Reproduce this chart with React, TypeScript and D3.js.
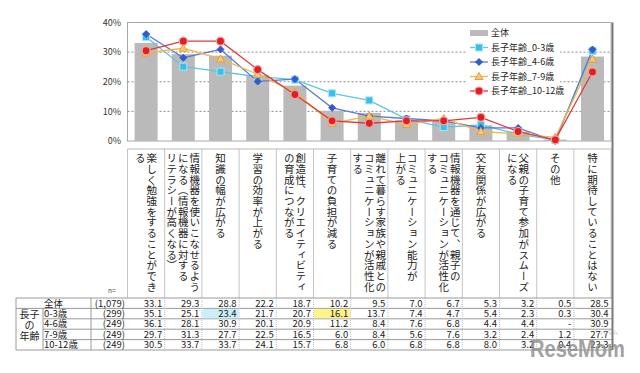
import * as d3 from "d3";

const categories: string[][] = [
  ["楽しく勉強をすることができ", "る"],
  ["情報機器を使いこなせるよう", "になる（情報機器に対する", "リテラシーが高くなる）"],
  ["知識の幅が広がる"],
  ["学習の効率が上がる"],
  ["創造性、クリエイティビティ", "の育成につながる"],
  ["子育ての負担が減る"],
  ["離れて暮らす家族や親戚との", "コミュニケーションが活性化", "する"],
  ["コミュニケーション能力が", "上がる"],
  ["情報機器を通じて、親子の", "コミュニケーションが活性化", "する"],
  ["交友関係が広がる"],
  ["父親の子育て参加がスムーズ", "になる"],
  ["その他"],
  ["特に期待していることはない"],
];

// 全体 and the four age groups (null = "-")
const totalValues = [33.1, 29.3, 28.8, 22.2, 18.7, 10.2, 9.5, 7.0, 6.7, 5.3, 3.2, 0.5, 28.5];
const age0to3 = [35.1, 25.1, 23.4, 21.7, 20.7, 16.1, 13.7, 7.4, 4.7, 5.4, 2.3, 0.3, 30.4];
const age4to6 = [36.1, 28.1, 30.9, 20.1, 20.9, 11.2, 8.4, 7.6, 6.8, 4.4, 4.4, null, 30.9];
const age7to9 = [29.7, 31.3, 27.7, 22.5, 16.5, 6.0, 8.4, 5.6, 7.6, 3.2, 2.4, 1.2, 27.7];
const age10to12 = [30.5, 33.7, 33.7, 24.1, 15.7, 6.8, 6.0, 6.8, 6.8, 8.0, 3.2, 0.4, 23.3];

const seriesNames = ["長子年齢_0-3歳", "長子年齢_4-6歳", "長子年齢_7-9歳", "長子年齢_10-12歳"];
const rowLabels = ["全体", "0-3歳", "4-6歳", "7-9歳", "10-12歳"];
const nCounts = ["(1,079)", "(299)", "(249)", "(249)", "(249)"];
const yTicks = [0, 10, 20, 30, 40];

const FONT = "'Noto Sans CJK JP', 'Noto Sans', sans-serif";

const seriesStyle = [
  { line: "#5cc6e4", fill: "#38bfe8", stroke: "#a8e4f4", shape: "square" },
  { line: "#5a78d8", fill: "#3559cc", stroke: "#3559cc", shape: "diamond" },
  { line: "#f2b74a", fill: "#f9c77a", stroke: "#e9a02c", shape: "triangle" },
  { line: "#e0393b", fill: "#e01e24", stroke: "#f4a4a4", shape: "circle" },
];

function Marker({ shape, cx, cy, fill, stroke }: any) {
  if (shape === "square")
    return <rect x={cx - 3.5} y={cy - 3.5} width={7} height={7} fill={fill} stroke={stroke} strokeWidth={1} />;
  if (shape === "diamond")
    return <path d={`M${cx},${cy - 3.5}L${cx + 3.5},${cy}L${cx},${cy + 3.5}L${cx - 3.5},${cy}Z`} fill={fill} stroke={stroke} />;
  if (shape === "triangle")
    return <path d={`M${cx},${cy - 4}L${cx + 4},${cy + 3}L${cx - 4},${cy + 3}Z`} fill={fill} stroke={stroke} strokeWidth={1} />;
  return <circle cx={cx} cy={cy} r={4} fill={fill} stroke={stroke} strokeWidth={1.2} />;
}

export default function App() {
  const width = 640;
  const height = 373;
  const plotLeft = 127.5;
  const plotRight = 611.1;
  const plotTop = 22.5;
  const plotBottom = 141;
  const labelTop = 149;
  const tableTop = 298;
  const rowH = 10.4;
  const tableBottom = tableTop + rowH * 5;

  const x = d3.scaleBand<number>().domain(d3.range(categories.length)).range([plotLeft, plotRight]);
  const bw = x.bandwidth();
  const cx = (i: number) => (x(i) as number) + bw / 2;
  const y = d3.scaleLinear().domain([0, 40]).range([plotBottom, plotTop]);

  const groups = [age0to3, age4to6, age7to9, age10to12];
  const line = d3
    .line<number | null>()
    .x((_, i) => cx(i))
    .y((d) => y(d ?? 0));

  const tableRows = [totalValues, ...groups];
  const legendY = [33, 47.5, 62, 76.5, 91];

  return (
    <svg width={width} height={height} style={{ position: "absolute", left: 0, top: 0, fontFamily: FONT }}>
      <rect width={width} height={height} fill="#fff" />

      {/* plot frame */}
      <rect x={plotLeft} y={plotTop} width={plotRight - plotLeft} height={plotBottom - plotTop} fill="none" stroke="#a8a8a8" />

      {/* grid */}
      {yTicks.filter((t) => t > 0 && t < 40).map((t) => (
        <line key={t} x1={plotLeft} x2={plotRight} y1={y(t)} y2={y(t)} stroke="#8c8c8c" strokeDasharray="2,2" />
      ))}
      {yTicks.map((t) => (
        <text key={t} x={121} y={y(t)} dy="0.35em" textAnchor="end" fontSize={9} fill="#333">
          {t}%
        </text>
      ))}

      {/* bars */}
      {totalValues.map((v, i) => (
        <rect key={i} x={cx(i) - 11.5} y={y(v)} width={23} height={plotBottom - y(v)} fill="#bababa" />
      ))}

      {/* legend box */}
      <rect x={466} y={25} width={94} height={72} fill="#fff" />

      {/* lines */}
      {groups.map((g, s) => (
        <path key={s} d={line(g) as string} fill="none" stroke={seriesStyle[s].line} strokeWidth={1.3} />
      ))}
      {groups.map((g, s) =>
        g.map((v, i) => (
          <Marker key={`${s}-${i}`} shape={seriesStyle[s].shape} cx={cx(i)} cy={y(v ?? 0)} fill={seriesStyle[s].fill} stroke={seriesStyle[s].stroke} />
        ))
      )}

      {/* legend */}
      <rect x={470} y={legendY[0] - 3} width={18} height={6} fill="#bababa" />
      <text x={491} y={legendY[0]} dy="0.35em" fontSize={9} fill="#222">全体</text>
      {seriesNames.map((name, s) => (
        <g key={name}>
          <line x1={470} x2={488} y1={legendY[s + 1]} y2={legendY[s + 1]} stroke={seriesStyle[s].line} strokeWidth={1.3} />
          <Marker shape={seriesStyle[s].shape} cx={479} cy={legendY[s + 1]} fill={seriesStyle[s].fill} stroke={seriesStyle[s].stroke} />
          <text x={491} y={legendY[s + 1]} dy="0.35em" fontSize={9} fill="#222">{name}</text>
        </g>
      ))}

      {/* category label box */}
      <line x1={plotLeft} x2={plotRight} y1={labelTop} y2={labelTop} stroke="#b8b8b8" />
      {d3.range(categories.length + 1).map((i) => (
        <line key={i} x1={plotLeft + bw * i} x2={plotLeft + bw * i} y1={labelTop} y2={tableTop} stroke="#c4c4c4" />
      ))}
      {categories.map((lines, i) =>
        lines.map((ln, k) => {
          const pitch = 11.5;
          const lx = cx(i) + ((lines.length - 1) / 2 - k) * pitch;
          return (
            <text key={`${i}-${k}`} x={lx} y={153} fontSize={10.5} letterSpacing={0.2} fill="#222" style={{ writingMode: "vertical-rl" }}>
              {ln}
            </text>
          );
        })
      )}
      <text x={108} y={293} fontSize={6.5} fill="#444">n=</text>

      {/* table */}
      {[0, 1, 5].map((r) => (
        <line key={r} x1={16} x2={612} y1={tableTop + rowH * r} y2={tableTop + rowH * r} stroke="#9a9a9a" />
      ))}
      {[2, 3, 4].map((r) => (
        <line key={r} x1={43} x2={612} y1={tableTop + rowH * r} y2={tableTop + rowH * r} stroke="#9a9a9a" />
      ))}
      <line x1={16} x2={16} y1={tableTop} y2={tableBottom} stroke="#9a9a9a" />
      <line x1={43} x2={43} y1={tableTop + rowH} y2={tableBottom} stroke="#9a9a9a" />
      <line x1={91} x2={91} y1={tableTop} y2={tableBottom} stroke="#9a9a9a" />
      {d3.range(1, categories.length).map((i) => (
        <line key={i} x1={plotLeft + bw * i} x2={plotLeft + bw * i} y1={tableTop} y2={tableBottom} stroke="#bdbdbd" strokeDasharray="1,1" />
      ))}
      {/* highlighted cells */}
      <rect x={plotLeft + bw * 2 + 0.5} y={tableTop + rowH + 0.5} width={bw - 1} height={rowH - 1} fill="#c9eff8" />
      <rect x={plotLeft + bw * 5 + 0.5} y={tableTop + rowH + 0.5} width={bw - 1} height={rowH - 1} fill="#fff48c" />

      {rowLabels.map((lab, r) => (
        <text key={lab} x={44} y={tableTop + rowH * r + rowH / 2} dy="0.36em" fontSize={9.5} fill="#222">{lab}</text>
      ))}
      {nCounts.map((n, r) => (
        <text key={r} x={125} y={tableTop + rowH * r + rowH / 2} dy="0.36em" textAnchor="end" fontSize={9.5} fill="#222">{n}</text>
      ))}
      {["長子", "の", "年齢"].map((t, k) => (
        <text key={t} x={29.5} y={tableTop + rowH + 6 + k * 10.8} dy="0.36em" textAnchor="middle" fontSize={10} fill="#222">{t}</text>
      ))}
      {tableRows.map((row, r) =>
        row.map((v, i) => (
          <text key={`${r}-${i}`} x={plotLeft + bw * (i + 1) - 2.5} y={tableTop + rowH * r + rowH / 2} dy="0.36em" textAnchor="end" fontSize={9.5} fill="#222">
            {v == null ? "-" : v.toFixed(1)}
          </text>
        ))
      )}

      {/* right edge */}
      <line x1={612.5} x2={612.5} y1={plotTop} y2={tableBottom} stroke="#7a7a7a" strokeWidth={2} />

      {/* watermark */}
      <g opacity={0.8}>
        <text x={530} y={357} fontSize={24} fontWeight="bold" fill="#8c8c8c" textLength={95} lengthAdjust="spacingAndGlyphs" fontFamily="'Liberation Sans', Arial, sans-serif">
          ReseMom
        </text>
        <text x={598} y={334} fontSize={5} fill="#999">リセマム</text>
      </g>
    </svg>
  );
}
